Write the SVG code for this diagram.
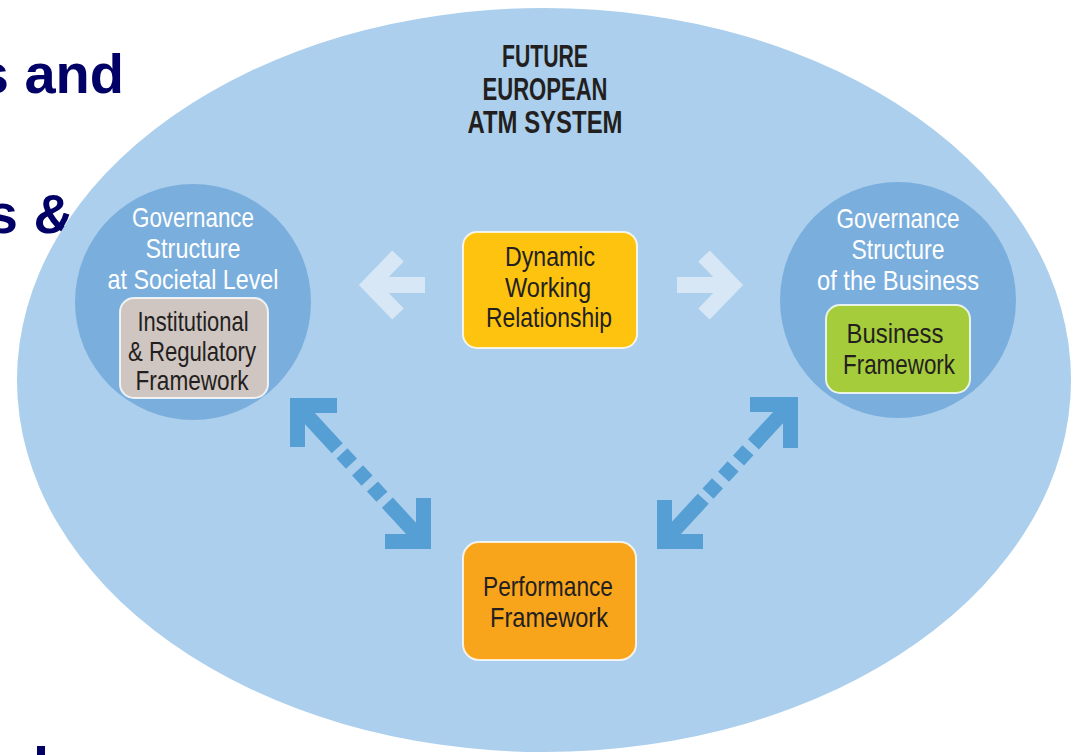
<svg xmlns="http://www.w3.org/2000/svg" width="1078" height="755" viewBox="0 0 1078 755">
<style>
.side{font-family:"Liberation Sans",Arial,sans-serif;font-weight:bold;font-size:56px;fill:#000066}
.wt{font-family:"Liberation Sans",Arial,sans-serif;font-size:28px;fill:#ffffff;text-anchor:middle}
.dk{font-family:"Liberation Sans",Arial,sans-serif;font-size:28px;fill:#231f20;text-anchor:middle}
.ttl{font-family:"Liberation Sans",Arial,sans-serif;font-weight:bold;font-size:32px;fill:#231f20;text-anchor:middle}
.box{stroke:#ffffff;stroke-width:2;stroke-opacity:0.8}
.light{fill:none;stroke:#d8e7f5;stroke-width:16;stroke-linejoin:miter}
.dark{fill:none;stroke:#569fd5;stroke-width:15;stroke-linejoin:miter;stroke-miterlimit:10}
</style>
<rect width="1078" height="755" fill="#ffffff"/>
<text class="side" x="124" y="93" text-anchor="end">s and</text>
<text class="side" x="74" y="233" text-anchor="end">s &amp;</text>
<rect x="37" y="746" width="8" height="9" fill="#000066"/>
<g id="system">
<ellipse cx="544" cy="380" rx="527" ry="372" fill="#abcfec"/>
<text class="ttl" x="545" y="67" textLength="86" lengthAdjust="spacingAndGlyphs">FUTURE</text>
<text class="ttl" x="545" y="100" textLength="125" lengthAdjust="spacingAndGlyphs">EUROPEAN</text>
<text class="ttl" x="545" y="133" textLength="155" lengthAdjust="spacingAndGlyphs">ATM SYSTEM</text>
</g>
<g id="societal">
<circle cx="193" cy="302" r="118" fill="#7aaedd"/>
<text class="wt" x="193" y="227" textLength="122" lengthAdjust="spacingAndGlyphs">Governance</text>
<text class="wt" x="193" y="258" textLength="95" lengthAdjust="spacingAndGlyphs">Structure</text>
<text class="wt" x="193" y="289" textLength="171" lengthAdjust="spacingAndGlyphs">at Societal Level</text>
</g>
<g id="institutional">
<rect class="box" x="120" y="298" width="148" height="100" rx="14" fill="#cfc5c1"/>
<text class="dk" x="193" y="331" textLength="111" lengthAdjust="spacingAndGlyphs">Institutional</text>
<text class="dk" x="192" y="361" textLength="128" lengthAdjust="spacingAndGlyphs">&amp; Regulatory</text>
<text class="dk" x="192" y="390" textLength="113" lengthAdjust="spacingAndGlyphs">Framework</text>
</g>
<g id="business-gov">
<circle cx="898" cy="300" r="118" fill="#7aaedd"/>
<text class="wt" x="898" y="228" textLength="123" lengthAdjust="spacingAndGlyphs">Governance</text>
<text class="wt" x="898" y="259" textLength="93" lengthAdjust="spacingAndGlyphs">Structure</text>
<text class="wt" x="898" y="290" textLength="162" lengthAdjust="spacingAndGlyphs">of the Business</text>
</g>
<g id="business">
<rect class="box" x="826" y="305" width="144" height="88" rx="14" fill="#a5cc3b"/>
<text class="dk" x="895" y="343" textLength="97" lengthAdjust="spacingAndGlyphs">Business</text>
<text class="dk" x="899" y="374" textLength="112" lengthAdjust="spacingAndGlyphs">Framework</text>
</g>
<g id="dynamic">
<rect class="box" x="463" y="232" width="174" height="116" rx="14" fill="#fdc30f"/>
<text class="dk" x="550" y="266" textLength="90" lengthAdjust="spacingAndGlyphs">Dynamic</text>
<text class="dk" x="548" y="297" textLength="86" lengthAdjust="spacingAndGlyphs">Working</text>
<text class="dk" x="549" y="327" textLength="126" lengthAdjust="spacingAndGlyphs">Relationship</text>
</g>
<g id="performance">
<rect class="box" x="463" y="542" width="173" height="118" rx="16" fill="#f8a51c"/>
<text class="dk" x="548" y="596" textLength="130" lengthAdjust="spacingAndGlyphs">Performance</text>
<text class="dk" x="549" y="627" textLength="118" lengthAdjust="spacingAndGlyphs">Framework</text>
</g>
<g id="connectors">
<path class="light" d="M425 285 H372 M398 256 L370 285 L398 314"/>
<path class="light" d="M677 285 H730 M704 256 L732 285 L704 314"/>
<path class="dark" d="M302 410 L419 537" stroke-dasharray="52 7 14 9 14 8 14 8 60"/>
<polyline class="dark" points="337,405.5 297.5,405.5 297.5,447"/>
<polyline class="dark" points="385,541.5 423.5,541.5 423.5,498"/>
<path class="dark" d="M668 537 L786 409" stroke-dasharray="52 7 14 9 14 8 14 8 60"/>
<polyline class="dark" points="703,541.5 664.5,541.5 664.5,500"/>
<polyline class="dark" points="750,404.5 790.5,404.5 790.5,448"/>
</g>
</svg>
